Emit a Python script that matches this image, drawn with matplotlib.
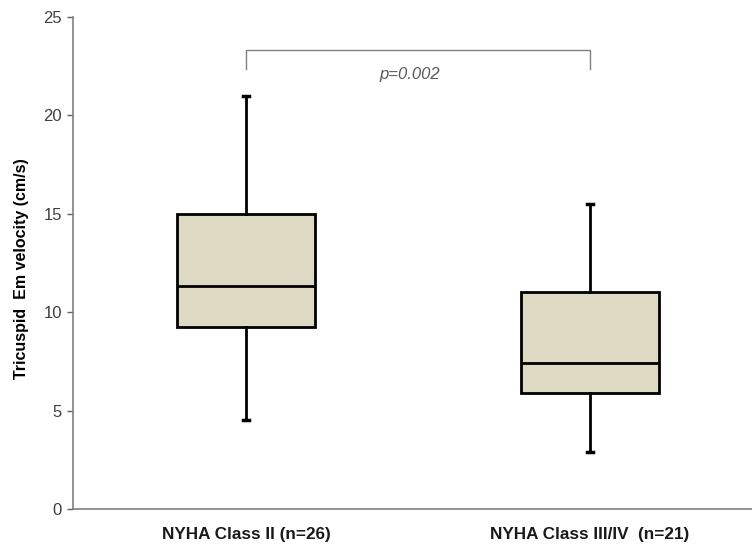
import matplotlib
matplotlib.use("Agg")
import matplotlib.pyplot as plt

# Data
groups = ["NYHA Class II (n=26)", "NYHA Class III/IV  (n=21)"]
whisker_low = [4.5, 2.9]
q1 = [9.25, 5.9]
median = [11.35, 7.4]
q3 = [15.0, 11.0]
whisker_high = [21.0, 15.5]
yticks = [0, 5, 10, 15, 20, 25]
p_text = "p=0.002"

BOXFILL = "#ddd9c3"
GRAY = "#808080"

plt.rcParams['font.family'] = ['Liberation Sans', 'DejaVu Sans']

fig = plt.figure(figsize=(7.52, 5.49), dpi=100)
ax = fig.add_axes([0.097, 0.073, 0.903, 0.896])

stats = []
for i in range(len(groups)):
    stats.append(dict(whislo=whisker_low[i], q1=q1[i], med=median[i],
                      q3=q3[i], whishi=whisker_high[i], fliers=[]))

bp = ax.bxp(stats, positions=[1, 2], widths=0.40, patch_artist=True,
            showfliers=False,
            boxprops=dict(facecolor=BOXFILL, edgecolor="black", linewidth=2),
            medianprops=dict(color="black", linewidth=2),
            whiskerprops=dict(color="black", linewidth=2),
            capprops=dict(color="black", linewidth=2.5))
for cap in bp['caps']:
    x = cap.get_xdata()
    c = (x[0] + x[1]) / 2
    cap.set_xdata([c - 0.009, c + 0.009])

# significance bracket
ytop = 23.3
yleg = 22.35
ax.plot([1, 1, 2, 2], [yleg, ytop, ytop, yleg], color=GRAY, lw=1.0,
        solid_joinstyle="round")
ax.text(1.475, 22.1, p_text, ha="center", va="center", fontsize=12,
        style="italic", color="#595959")

ax.set_xlim(0.497, 2.471)
ax.set_ylim(0, 25)
ax.set_yticks(yticks)
ax.set_xticks([1, 2])
ax.set_xticklabels(groups, fontsize=12.3, fontweight="bold", color="#1a1a1a")
ax.tick_params(axis="x", length=0, pad=13)
ax.tick_params(axis="y", length=4, width=1, color="#606060", labelsize=12,
               labelcolor="#404040", pad=4)
ax.set_ylabel("Tricuspid  Em velocity (cm/s)", fontsize=11.5,
              fontweight="bold")
ax.yaxis.set_label_coords(-0.065, 0.488)

# Aesthetics
ax.spines["right"].set_visible(False)
ax.spines["top"].set_visible(False)
ax.spines["left"].set_color(GRAY)
ax.spines["bottom"].set_color(GRAY)
ax.spines["left"].set_linewidth(1.2)
ax.spines["bottom"].set_linewidth(1.2)

fig.savefig("out.png", dpi=100)
